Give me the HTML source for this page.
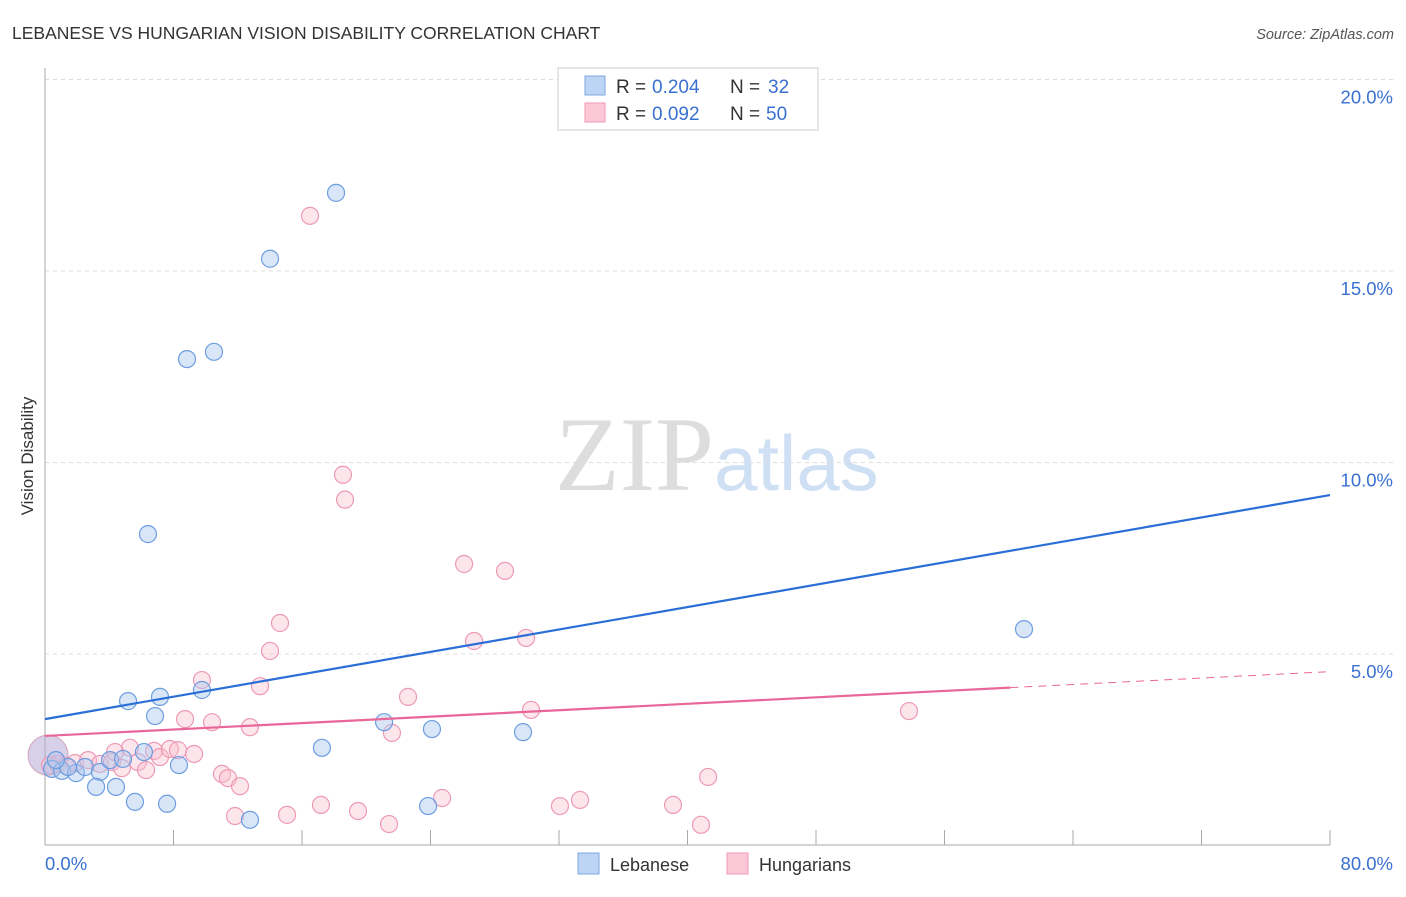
<!DOCTYPE html>
<html><head><meta charset="utf-8"><style>
body{margin:0;background:#fff;font-family:"Liberation Sans",sans-serif;}
</style></head><body>
<svg id="chart" width="1406" height="892" viewBox="0 0 1406 892" xmlns="http://www.w3.org/2000/svg" font-family="Liberation Sans, sans-serif">
<text x="12" y="39" font-size="17.5" fill="#333">LEBANESE VS HUNGARIAN VISION DISABILITY CORRELATION CHART</text>
<text x="1394" y="39" font-size="14.5" fill="#555" text-anchor="end" font-style="italic">Source: ZipAtlas.com</text>
<text transform="translate(33,456) rotate(-90)" font-size="17" fill="#333" text-anchor="middle">Vision Disability</text>
<text x="555" y="490" font-size="106"><tspan fill="#ddd" font-family="Liberation Serif, serif">ZIP</tspan><tspan fill="#cfe0f4" font-size="78">atlas</tspan></text>
<g id="grid"></g><g id="axes"></g><g id="marks"></g>
<g>
<rect x="558" y="68" width="260" height="62" fill="#fff" stroke="#ccc"/>
<rect x="585" y="76" width="20" height="19" fill="#bdd5f5" stroke="#7ea7e0"/>
<rect x="585" y="103" width="20" height="19" fill="#fcc8d8" stroke="#ee9ab5"/>
<text x="616" y="93" font-size="19" fill="#333">R = </text><text x="652" y="93" font-size="19" fill="#3a70d0">0.204</text>
<text x="730" y="93" font-size="19" fill="#333">N = </text><text x="768" y="93" font-size="19" fill="#3a70d0">32</text>
<text x="616" y="120" font-size="19" fill="#333">R = </text><text x="652" y="120" font-size="19" fill="#3a70d0">0.092</text>
<text x="730" y="120" font-size="19" fill="#333">N = </text><text x="766" y="120" font-size="19" fill="#3a70d0">50</text>
</g>
<g>
<rect x="578" y="853" width="21" height="21" fill="#bdd5f5" stroke="#7ea7e0"/>
<text x="610" y="871" font-size="18" fill="#333">Lebanese</text>
<rect x="727" y="853" width="21" height="21" fill="#fcc8d8" stroke="#ee9ab5"/>
<text x="759" y="871" font-size="18" fill="#333">Hungarians</text>
</g>
</svg>
<script>
const yTicks=[5,10,15,20];
const yTickLabels=["5.0%","10.0%","15.0%","20.0%"];
const xTicks=[0,8,16,24,32,40,48,56,64,72,80];
const lebX=[0.44,1.06,1.93,2.49,3.42,3.18,4.42,4.05,4.86,5.60,6.16,7.60,8.34,5.17,6.85,7.16,9.77,6.41,8.84,10.52,14.01,18.12,12.76,17.24,21.11,23.85,24.09,29.76,60.95,1.43,0.68];
const lebY=[2.00,1.95,1.89,2.05,1.92,1.53,1.53,2.23,2.26,1.14,2.44,1.09,2.10,3.77,3.38,3.88,4.06,8.13,12.70,12.89,15.32,17.04,0.67,2.55,3.22,1.03,3.04,2.96,5.65,2.05,2.23];
const hunX=[0.31,0.81,1.31,1.87,2.68,3.42,4.17,4.79,5.29,5.79,6.29,6.79,7.16,7.78,8.28,8.72,9.28,9.77,10.40,11.02,11.39,12.14,11.83,12.76,13.39,14.01,14.63,15.07,16.50,17.18,18.55,18.68,19.49,21.42,21.60,22.60,24.72,26.09,26.71,28.64,29.95,30.26,32.06,33.31,39.10,40.84,41.28,53.79,4.36];
const hunY=[2.10,2.13,2.08,2.15,2.23,2.13,2.18,2.02,2.55,2.18,1.97,2.47,2.31,2.52,2.49,3.30,2.39,4.32,3.22,1.87,1.76,1.55,0.77,3.09,4.16,5.08,5.81,0.80,16.44,1.06,9.68,9.03,0.90,0.56,2.94,3.88,1.24,7.35,5.34,7.17,5.42,3.54,1.03,1.19,1.06,0.54,1.79,3.51,2.44];
const bigPoint=[0.19,2.36];
const lebLine=[3.30,9.15];
const hunLine=[2.86,4.54];
const hunSolidEnd=60.1;

const NS="http://www.w3.org/2000/svg";
const X0=45,X1=1330,YB=845.5,PX5=191.5;
const sx=v=>X0+(v/80)*(X1-X0);
const sy=v=>YB-v/5*PX5;
function mk(t,a,p){const e=document.createElementNS(NS,t);for(const k in a)e.setAttribute(k,a[k]);p.appendChild(e);return e;}
const grid=document.getElementById('grid'),axes=document.getElementById('axes'),marks=document.getElementById('marks');
yTicks.forEach((v,i)=>{
 const l=mk('line',{x1:X0,x2:1394,y1:sy(v),y2:sy(v),stroke:'#ddd','stroke-dasharray':'4,4'},grid);
 
 
 const t=mk('text',{x:1393,y:sy(v)+24,'font-size':18.5,fill:'#3a70d0','text-anchor':'end'},axes);
 t.textContent=yTickLabels[i];
 
 
});
const ya=mk('line',{x1:X0,x2:X0,y1:68,y2:845,stroke:'#aaa'},axes);


const xa=mk('line',{x1:X0,x2:X1,y1:845,y2:845,stroke:'#aaa'},axes);


xTicks.forEach(v=>{
 const l=mk('line',{x1:sx(v),x2:sx(v),y1:830,y2:845,stroke:'#aaa'},axes);
 
 
});
[["0.0%",45,'start'],["80.0%",1393,'end']].forEach(a=>{
 const t=mk('text',{x:a[1],y:870,'font-size':18.5,fill:'#3a70d0','text-anchor':a[2]},axes);
 t.textContent=a[0];
 
 
});
const big=mk('circle',{cx:sx(bigPoint[0]),cy:sy(bigPoint[1]),r:20,fill:'rgba(180,170,215,0.55)',stroke:'#d9a2c0'},marks);


hunX.forEach((x,i)=>{
 const c=mk('circle',{cx:sx(x),cy:sy(hunY[i]),r:8.5,fill:'rgba(250,190,208,0.4)',stroke:'#ee9ab5','stroke-width':1.2},marks);
 
 
});
lebX.forEach((x,i)=>{
 const c=mk('circle',{cx:sx(x),cy:sy(lebY[i]),r:8.5,fill:'rgba(170,200,240,0.45)',stroke:'#6d9de0','stroke-width':1.2},marks);
 
 
});
const bl=mk('line',{x1:sx(0),y1:sy(lebLine[0]),x2:sx(80),y2:sy(lebLine[1]),stroke:'#2a6fd6','stroke-width':2.2},marks);


const hm=v=>hunLine[0]+(hunLine[1]-hunLine[0])*v/80;
const pl=mk('line',{x1:sx(0),y1:sy(hunLine[0]),x2:sx(hunSolidEnd),y2:sy(hm(hunSolidEnd)),stroke:'#e8669a','stroke-width':2.2},marks);


const pd=mk('line',{x1:sx(hunSolidEnd),y1:sy(hm(hunSolidEnd)),x2:sx(80),y2:sy(hunLine[1]),stroke:'#e8669a','stroke-width':1,'stroke-dasharray':'8,6'},marks);


</script>
</body></html>
